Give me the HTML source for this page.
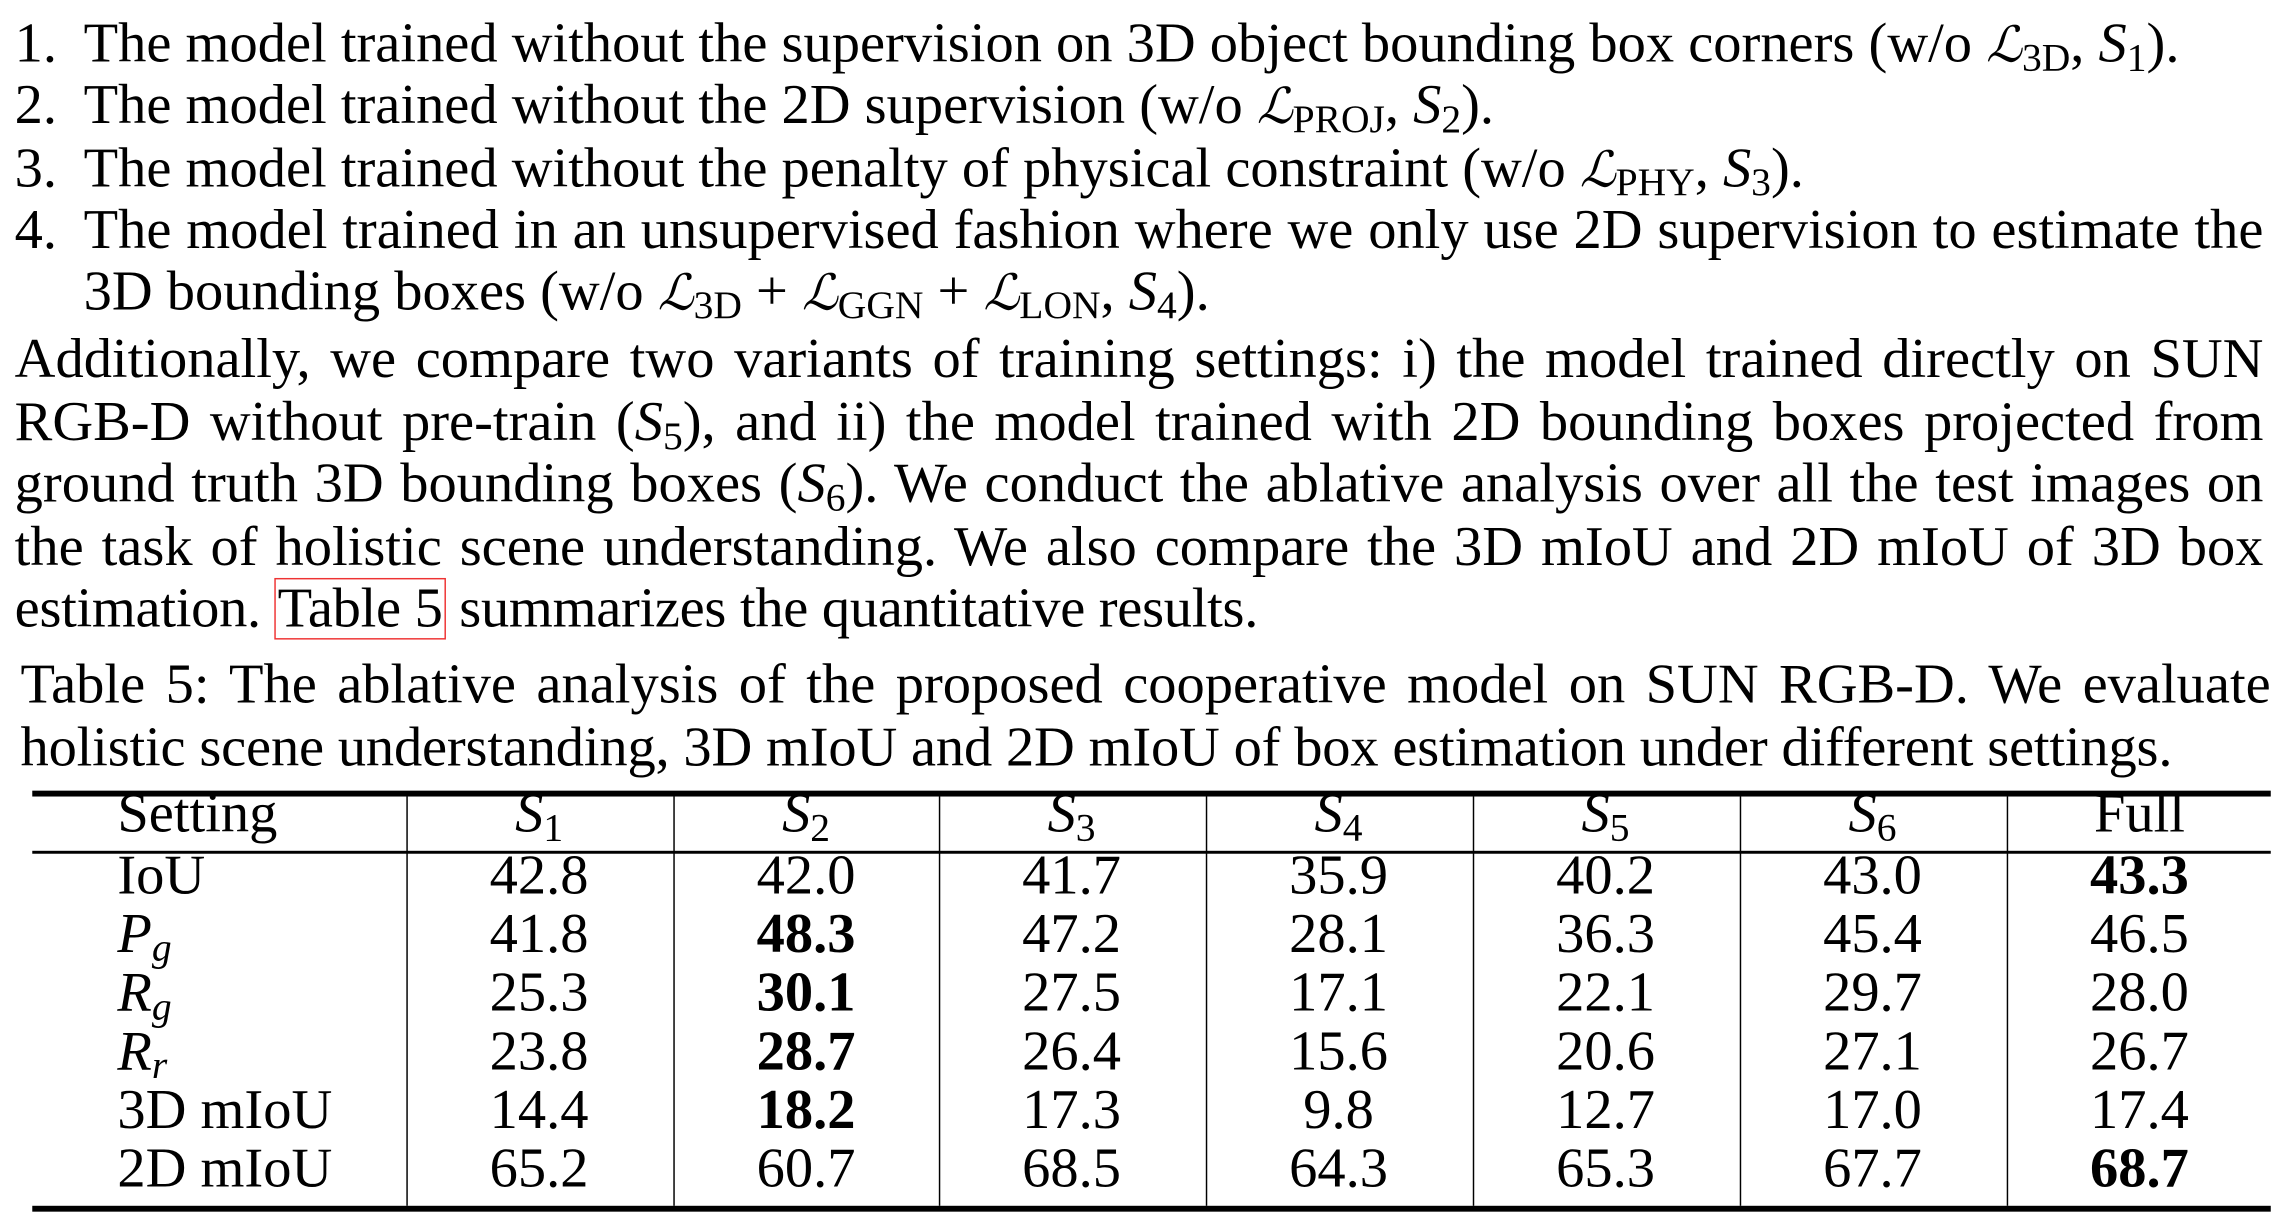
<!DOCTYPE html>
<html><head><meta charset="utf-8">
<style>
html,body{margin:0;padding:0;background:#fff;}
body{width:2281px;height:1212px;overflow:hidden;position:relative;}
#wrap{position:absolute;left:0;top:0;width:1555px;height:827px;transform:scale(1.4669);transform-origin:0 0;font-family:"Liberation Serif","DejaVu Serif",serif;color:#000;}
.ln{position:absolute;font-size:38.5px;line-height:42.5px;white-space:nowrap;}
.j{text-align:justify;text-align-last:justify;white-space:normal;}
i{font-style:italic;}
sub{font-size:70%;vertical-align:-0.22em;line-height:0;font-style:normal;}
.L{font-family:"DejaVu Serif",serif;font-style:italic;font-size:88%;}
.rule{position:absolute;background:#000;}
.cell{position:absolute;font-size:38.5px;line-height:42.5px;text-align:center;width:181px;white-space:nowrap;}
b{font-weight:bold;}
</style></head><body>
<div id="wrap">
<div class="ln" style="left:10px;top:9px">1.</div>
<div class="ln" style="left:57px;top:9px">The model trained without the supervision on 3D object bounding box corners (w/o <span class="L">ℒ</span><sub>3D</sub>, <i>S</i><sub>1</sub>).</div>
<div class="ln" style="left:10px;top:51px">2.</div>
<div class="ln" style="left:57px;top:51px">The model trained without the 2D supervision (w/o <span class="L">ℒ</span><sub>PROJ</sub>, <i>S</i><sub>2</sub>).</div>
<div class="ln" style="left:10px;top:94px">3.</div>
<div class="ln" style="left:57px;top:94px">The model trained without the penalty of physical constraint (w/o <span class="L">ℒ</span><sub>PHY</sub>, <i>S</i><sub>3</sub>).</div>
<div class="ln" style="left:10px;top:136px">4.</div>
<div class="ln j" style="left:57px;top:136px;width:1486px">The model trained in an unsupervised fashion where we only use 2D supervision to estimate the</div>
<div class="ln" style="left:57px;top:178px">3D bounding boxes (w/o <span class="L">ℒ</span><sub>3D</sub> + <span class="L">ℒ</span><sub>GGN</sub> + <span class="L">ℒ</span><sub>LON</sub>, <i>S</i><sub>4</sub>).</div>
<div class="ln j" style="left:10px;top:224px;width:1533px">Additionally, we compare two variants of training settings: i) the model trained directly on SUN</div>
<div class="ln j" style="left:10px;top:267px;width:1533px">RGB-D without pre-train (<i>S</i><sub>5</sub>), and ii) the model trained with 2D bounding boxes projected from</div>
<div class="ln j" style="left:10px;top:309px;width:1533px">ground truth 3D bounding boxes (<i>S</i><sub>6</sub>). We conduct the ablative analysis over all the test images on</div>
<div class="ln j" style="left:10px;top:352px;width:1533px">the task of holistic scene understanding. We also compare the 3D mIoU and 2D mIoU of 3D box</div>
<div class="ln" style="left:10px;top:394px;letter-spacing:-0.2px">estimation. <span style="outline:1px solid #e33;outline-offset:-1px;padding:0 2px">Table 5</span> summarizes the quantitative results.</div>
<div class="ln j" style="left:14px;top:446px;width:1534px">Table 5: The ablative analysis of the proposed cooperative model on SUN RGB-D. We evaluate</div>
<div class="ln" style="left:14px;top:489px;letter-spacing:-0.12px">holistic scene understanding, 3D mIoU and 2D mIoU of box estimation under different settings.</div>
<div id="table"></div>
</div>
<script>
const settings=["IoU","Pg","Rg","Rr","3D mIoU","2D mIoU"];
const columns=["S1","S2","S3","S4","S5","S6","Full"];
const vals=[
["42.8","42.0","41.7","35.9","40.2","43.0","43.3"],
["41.8","48.3","47.2","28.1","36.3","45.4","46.5"],
["25.3","30.1","27.5","17.1","22.1","29.7","28.0"],
["23.8","28.7","26.4","15.6","20.6","27.1","26.7"],
["14.4","18.2","17.3","9.8","12.7","17.0","17.4"],
["65.2","60.7","68.5","64.3","65.3","67.7","68.7"]];
const boldIdx=[6,1,1,1,1,6];
const wrap=document.getElementById('wrap');
function add(html,l,t,cls,name){const d=document.createElement('div');d.className=cls;d.style.left=l+'px';d.style.top=t+'px';d.innerHTML=html;


wrap.appendChild(d);return d;}
function rule(l,t,w,h,name){const d=document.createElement('div');d.className='rule';d.style.cssText+='left:'+l+'px;top:'+t+'px;width:'+w+'px;height:'+h+'px';


wrap.appendChild(d);}
const seps=[277,459,640,822,1004,1186,1368];
rule(22,539,1526,4,'top-rule');
rule(22,580,1526,2,'header-rule');
rule(22,822,1526,4,'bottom-rule');
seps.forEach((x,i)=>rule(x-0.5,543,1.3,279,'column-separator-'+(i+1)));
function lab(s){if(s==="Pg")return '<i>P<sub style="font-style:italic">g</sub></i>';if(s==="Rg")return '<i>R<sub style="font-style:italic">g</sub></i>';if(s==="Rr")return '<i>R<sub style="font-style:italic">r</sub></i>';return s;}
function col(s){return s==="Full"?"Full":'<i>S</i><sub>'+s.slice(1)+'</sub>';}
const rowTop0=534, rowTop1=576, rowH=40;
add('Setting',80,rowTop0,'ln','header-setting');
columns.forEach((c,j)=>{add(col(c),seps[j],rowTop0,'cell','header-'+c.toLowerCase());});
settings.forEach((s,i)=>{const t=rowTop1+i*rowH;
add(lab(s),80,t,'ln','row-label-'+i);
vals[i].forEach((v,j)=>{add(boldIdx[i]===j?'<b>'+v+'</b>':v,seps[j],t,'cell','cell-'+i+'-'+j);});});
</script>
</body></html>
